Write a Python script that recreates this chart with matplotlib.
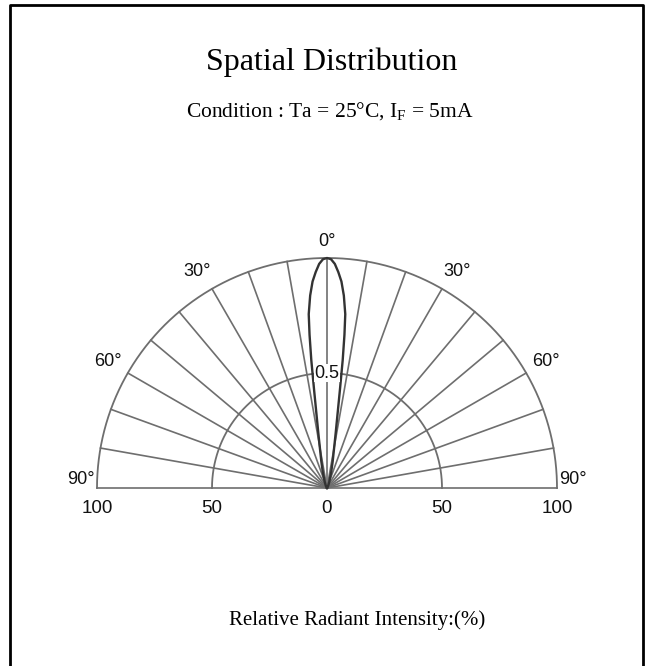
import numpy as np
import matplotlib.pyplot as plt
from matplotlib.lines import Line2D

plt.rcParams['mathtext.fontset'] = 'custom'
plt.rcParams['mathtext.rm'] = 'Liberation Serif'

# relative intensity of the beam (symmetric about 0 deg)
angle_deg = [0, 1, 2, 3, 4, 5, 6, 6.5, 7, 7.5, 8, 9, 10, 12, 15, 20, 30, 90]
intensity = [1.0, 0.995, 0.975, 0.94, 0.9, 0.84, 0.76, 0.67, 0.56, 0.43, 0.34, 0.24, 0.18, 0.12, 0.07, 0.03, 0.01, 0.0]

grid_angles = list(range(-90, 91, 10))
ring_radii = [50, 100]
angle_labels = ['0°', '30°', '60°', '90°']
angle_label_pos = [0, 31, 60, 88]
scale_ticks = [-100, -50, 0, 50, 100]
scale_labels = ['100', '50', '0', '50', '100']

W, H = 650, 666
cx, cy = 327, 488       # centre of the diagram in pixels (from top)
px = 2.3                # pixels per percent

fig = plt.figure(figsize=(W / 100, H / 100), dpi=100)
ax = fig.add_axes([0, 0, 1, 1])
ax.set_xlim(-cx / px, (W - cx) / px)
ax.set_ylim(-(H - cy) / px, cy / px)
ax.axis('off')

grid_col = '#6e6e6e'

# radial spokes
for a in grid_angles:
    t = np.radians(a)
    ax.plot([0, 100 * np.sin(t)], [0, 100 * np.cos(t)], color=grid_col, lw=1.2)

# arcs
th = np.linspace(-np.pi / 2, np.pi / 2, 300)
for r in ring_radii:
    ax.plot(r * np.sin(th), r * np.cos(th), color=grid_col, lw=1.3)

# beam pattern
a = np.radians(np.array(angle_deg))
v = np.array(intensity) * 100
full_a = np.concatenate([-a[::-1], a[1:]])
full_v = np.concatenate([v[::-1], v[1:]])
ax.plot(full_v * np.sin(full_a), full_v * np.cos(full_a), color='#333333', lw=1.7)

# angle labels
for lab, pos in zip(angle_labels, angle_label_pos):
    r = 110 if pos in (31, 60) else 107
    t = np.radians(pos)
    sides = [1] if pos == 0 else [-1, 1]
    for s in sides:
        ax.text(s * r * np.sin(t), r * np.cos(t), lab, ha='center', va='center',
                fontsize=13, family='Liberation Sans', color='#111111')

ax.text(0, 50, '0.5', ha='center', va='center', fontsize=13, family='Liberation Sans',
        color='#111111', bbox=dict(facecolor='white', edgecolor='none', pad=0.2))

for x, lab in zip(scale_ticks, scale_labels):
    ax.text(x, -9, lab, ha='center', va='center', fontsize=13.5,
            family='Liberation Sans', color='#111111')

fig.text(332 / W, 1 - 62 / H, 'Spatial Distribution', ha='center', va='center',
         fontsize=23, family='Liberation Serif')
fig.text(330 / W, 1 - 112 / H, 'Condition : Ta = 25°C, I$_{\\rm F}$ = 5mA', ha='center',
         va='center', fontsize=15.5, family='Liberation Serif')
fig.text(357 / W, 1 - 620 / H, 'Relative Radiant Intensity:(%)', ha='center', va='center',
         fontsize=15, family='Liberation Serif')

# frame (open at the bottom)
x0, x1, y0 = 10 / W, 643 / W, 1 - 4.5 / H
fig.add_artist(Line2D([x0, x0, x1, x1], [0, y0, y0, 0], color='black', lw=2,
                      transform=fig.transFigure))

fig.savefig('out.png', dpi=100)
